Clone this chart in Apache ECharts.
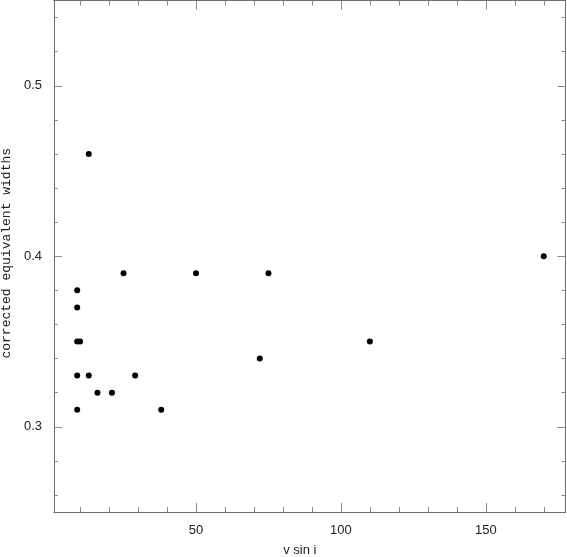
<!DOCTYPE html>
<html lang="en">
<head>
    <meta charset="utf-8" />
    <title>corrected equivalent widths vs v sin i</title>
    <script src="https://cdn.jsdelivr.net/npm/echarts@6/dist/echarts.min.js"></script>
    <style>
        html, body { margin: 0; padding: 0; background: #fff; }
        #main { width: 567px; height: 557px; }
    </style>
</head>
<body>
    <div id="main"></div>
    <script>
        // data: [v sin i, corrected equivalent width]
        var vsini = [13, 9, 9, 9, 10, 9, 13, 9, 16, 21, 25, 29, 38, 50, 72, 75, 110, 170];
        var eqw   = [0.46, 0.38, 0.37, 0.35, 0.35, 0.33, 0.33, 0.31, 0.32, 0.32, 0.39, 0.33, 0.31, 0.39, 0.34, 0.39, 0.35, 0.40];

        var xMajor = [50, 100, 150];
        var xMinor = [10, 20, 30, 40, 60, 70, 80, 90, 110, 120, 130, 140, 160, 170];
        var yMajor = [0.3, 0.4, 0.5];
        var yMinor = [0.26, 0.28, 0.32, 0.34, 0.36, 0.38, 0.42, 0.44, 0.46, 0.48, 0.52, 0.54];

        var xMin = 1, xMax = 177.5;
        var yMin = 0.25, yMax = 0.55;

        var points = [];
        for (var i = 0; i < vsini.length; i++) {
            points.push([vsini[i], eqw[i]]);
        }

        var lineColor = '#6e6e6e';
        var tickColor = '#8a8a8a';
        var labelFont = { color: '#222', fontSize: 13, fontFamily: 'Liberation Sans' };

        // one axis per (side, tick length); ticks drawn inside the box
        function xAx(pos, ticks, len, withLabel) {
            return {
                type: 'value', position: pos, min: xMin, max: xMax,
                axisLine: { show: true, onZero: false, lineStyle: { color: lineColor, width: 1 } },
                axisTick: { show: true, inside: true, length: len, customValues: ticks,
                            lineStyle: { color: tickColor, width: 1 } },
                axisLabel: withLabel ? Object.assign({ show: true, margin: 12, customValues: ticks }, labelFont)
                                     : { show: false },
                splitLine: { show: false }
            };
        }
        function yAx(pos, ticks, len, withLabel) {
            return {
                type: 'value', position: pos, min: yMin, max: yMax,
                axisLine: { show: true, onZero: false, lineStyle: { color: lineColor, width: 1 } },
                axisTick: { show: true, inside: true, length: len, customValues: ticks,
                            lineStyle: { color: tickColor, width: 1 } },
                axisLabel: withLabel ? Object.assign({ show: true, margin: 12, customValues: ticks,
                                         formatter: function (v) { return v.toFixed(1); } }, labelFont)
                                     : { show: false },
                splitLine: { show: false }
            };
        }

        var xAxes = [
            xAx('bottom', xMajor, 9, true),
            xAx('bottom', xMinor, 5, false),
            xAx('top', xMajor, 9, false),
            xAx('top', xMinor, 5, false)
        ];
        xAxes[0].name = 'v sin i';
        xAxes[0].nameLocation = 'middle';
        xAxes[0].nameGap = 32;
        xAxes[0].nameTextStyle = { color: '#222', fontSize: 13, fontFamily: 'Liberation Sans', padding: [0, 20, 0, 0] };

        var yAxes = [
            yAx('left', yMajor, 8, true),
            yAx('left', yMinor, 4, false),
            yAx('right', yMajor, 8, false),
            yAx('right', yMinor, 4, false)
        ];
        yAxes[0].name = 'corrected equivalent widths';
        yAxes[0].nameLocation = 'middle';
        yAxes[0].nameGap = 40;
        yAxes[0].nameRotate = 90;
        yAxes[0].nameTextStyle = { color: '#222', fontSize: 13, fontFamily: 'Liberation Mono', padding: [0, 0, 0, 6] };

        var myChart = echarts.init(document.getElementById('main'), null, { renderer: 'canvas' });
        var option = {
            backgroundColor: '#fff',
            animation: false,
            grid: { left: 54, right: 1.5, top: 0.5, bottom: 45, containLabel: false, outerBoundsMode: 'none' },
            xAxis: xAxes,
            yAxis: yAxes,
            series: [
                {
                    type: 'scatter',
                    xAxisIndex: 0,
                    yAxisIndex: 0,
                    data: points,
                    symbol: 'circle',
                    symbolSize: 6,
                    itemStyle: { color: '#000', opacity: 1 }
                }
            ]
        };
        myChart.setOption(option);
    </script>
</body>
</html>
